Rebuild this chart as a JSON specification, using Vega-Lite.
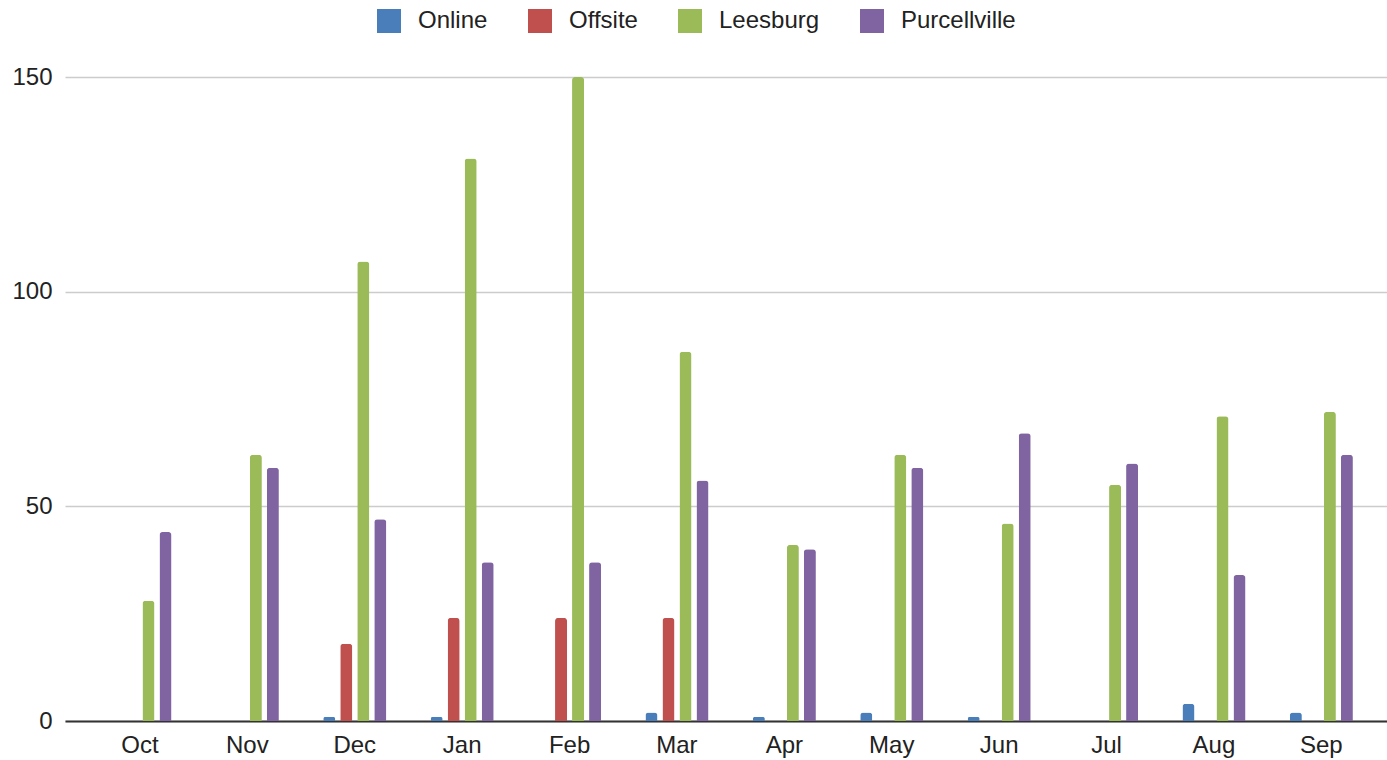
{
  "$schema": "https://vega.github.io/schema/vega-lite/v6.json",
  "autosize": {"type": "none"},
  "width": 1322,
  "height": 644,
  "padding": {"left": 65, "top": 77, "right": 0, "bottom": 39},
  "background": "white",
  "config": {
    "view": {"stroke": null},
    "font": "Liberation Sans",
    "axis": {"labelFont": "Liberation Sans", "labelColor": "#222222", "labelFontSize": 24},
    "legend": {"labelFont": "Liberation Sans", "labelColor": "#222222", "labelFontSize": 24}
  },
  "data": {
    "values": [
      {"month": "Oct", "series": "Online", "value": 0},
      {"month": "Oct", "series": "Offsite", "value": 0},
      {"month": "Oct", "series": "Leesburg", "value": 28},
      {"month": "Oct", "series": "Purcellville", "value": 44},
      {"month": "Nov", "series": "Online", "value": 0},
      {"month": "Nov", "series": "Offsite", "value": 0},
      {"month": "Nov", "series": "Leesburg", "value": 62},
      {"month": "Nov", "series": "Purcellville", "value": 59},
      {"month": "Dec", "series": "Online", "value": 1},
      {"month": "Dec", "series": "Offsite", "value": 18},
      {"month": "Dec", "series": "Leesburg", "value": 107},
      {"month": "Dec", "series": "Purcellville", "value": 47},
      {"month": "Jan", "series": "Online", "value": 1},
      {"month": "Jan", "series": "Offsite", "value": 24},
      {"month": "Jan", "series": "Leesburg", "value": 131},
      {"month": "Jan", "series": "Purcellville", "value": 37},
      {"month": "Feb", "series": "Online", "value": 0},
      {"month": "Feb", "series": "Offsite", "value": 24},
      {"month": "Feb", "series": "Leesburg", "value": 150},
      {"month": "Feb", "series": "Purcellville", "value": 37},
      {"month": "Mar", "series": "Online", "value": 2},
      {"month": "Mar", "series": "Offsite", "value": 24},
      {"month": "Mar", "series": "Leesburg", "value": 86},
      {"month": "Mar", "series": "Purcellville", "value": 56},
      {"month": "Apr", "series": "Online", "value": 1},
      {"month": "Apr", "series": "Offsite", "value": 0},
      {"month": "Apr", "series": "Leesburg", "value": 41},
      {"month": "Apr", "series": "Purcellville", "value": 40},
      {"month": "May", "series": "Online", "value": 2},
      {"month": "May", "series": "Offsite", "value": 0},
      {"month": "May", "series": "Leesburg", "value": 62},
      {"month": "May", "series": "Purcellville", "value": 59},
      {"month": "Jun", "series": "Online", "value": 1},
      {"month": "Jun", "series": "Offsite", "value": 0},
      {"month": "Jun", "series": "Leesburg", "value": 46},
      {"month": "Jun", "series": "Purcellville", "value": 67},
      {"month": "Jul", "series": "Online", "value": 0},
      {"month": "Jul", "series": "Offsite", "value": 0},
      {"month": "Jul", "series": "Leesburg", "value": 55},
      {"month": "Jul", "series": "Purcellville", "value": 60},
      {"month": "Aug", "series": "Online", "value": 4},
      {"month": "Aug", "series": "Offsite", "value": 0},
      {"month": "Aug", "series": "Leesburg", "value": 71},
      {"month": "Aug", "series": "Purcellville", "value": 34},
      {"month": "Sep", "series": "Online", "value": 2},
      {"month": "Sep", "series": "Offsite", "value": 0},
      {"month": "Sep", "series": "Leesburg", "value": 72},
      {"month": "Sep", "series": "Purcellville", "value": 62}
    ]
  },
  "mark": {"type": "bar", "cornerRadiusTopLeft": 3, "cornerRadiusTopRight": 3},
  "encoding": {
    "x": {
      "field": "month",
      "type": "nominal",
      "sort": ["Oct","Nov","Dec","Jan","Feb","Mar","Apr","May","Jun","Jul","Aug","Sep"],
      "scale": {"paddingInner": 0.413, "paddingOuter": 0.361, "align": 0.56},
      "axis": {
        "title": null,
        "labelAngle": 0,
        "ticks": false,
        "labelPadding": 12,
        "domainColor": "#333333",
        "domainWidth": 2
      }
    },
    "xOffset": {
      "field": "series",
      "type": "nominal",
      "sort": ["Online","Offsite","Leesburg","Purcellville"],
      "scale": {"paddingInner": 0.294, "paddingOuter": 0}
    },
    "y": {
      "field": "value",
      "type": "quantitative",
      "scale": {"domain": [0, 150]},
      "axis": {
        "title": null,
        "values": [0, 50, 100, 150],
        "domain": false,
        "ticks": false,
        "labelPadding": 13,
        "gridColor": "#cccccc",
        "gridWidth": 1.5
      }
    },
    "color": {
      "field": "series",
      "type": "nominal",
      "sort": ["Online","Offsite","Leesburg","Purcellville"],
      "scale": {
        "domain": ["Online","Offsite","Leesburg","Purcellville"],
        "range": ["#4a7ebb","#c0504d","#9bbb59","#8064a2"]
      },
      "legend": {
        "title": null,
        "orient": "none",
        "direction": "horizontal",
        "legendX": 312,
        "legendY": -68,
        "symbolType": "square",
        "symbolSize": 576,
        "symbolStrokeWidth": 0,
        "labelOffset": 17,
        "columnPadding": 40
      }
    }
  }
}
